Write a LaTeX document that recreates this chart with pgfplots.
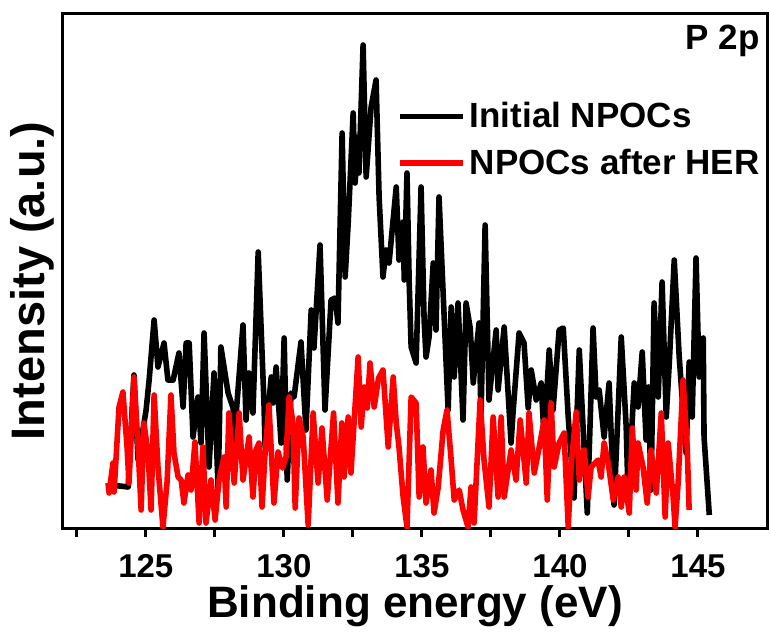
\documentclass[border=0pt]{standalone}
\usepackage{fontspec}
\setmainfont{Liberation Sans}
\usepackage{pgfplots}
\pgfplotsset{compat=1.18}

% P 2p XPS spectra (intensity in arbitrary units)
\pgfplotstableread{
x y
123.74 43
124.36 41
124.57 153
124.72 68
125.01 118
125.12 148
125.30 208
125.44 161
125.66 185
125.80 148
125.99 148
126.20 175
126.35 121
126.46 185
126.57 185
126.71 91
126.89 131
127.00 85
127.11 195
127.29 61
127.47 155
127.62 38
127.72 181
127.98 135
128.16 120
128.20 88
128.52 203
128.63 108
128.74 155
128.88 115
129.07 276
129.28 125
129.32 81
129.54 151
129.61 125
129.72 161
129.90 85
130.01 190
130.12 48
130.26 135
130.37 131
130.62 186
130.80 98
130.99 218
131.09 180
131.31 283
131.49 118
131.71 228
131.86 230
131.96 205
132.11 395
132.22 251
132.33 305
132.51 415
132.58 345
132.69 391
132.72 355
132.87 483
132.98 351
133.16 421
133.34 448
133.45 331
133.59 251
133.70 278
133.81 265
134.07 341
134.17 268
134.32 306
134.36 248
134.46 355
134.54 245
134.61 181
134.79 165
134.97 341
135.08 208
135.15 171
135.26 191
135.41 265
135.51 198
135.62 331
135.80 215
135.95 118
136.06 221
136.17 151
136.31 225
136.49 108
136.60 225
136.75 200
136.86 145
136.96 175
137.07 205
137.14 111
137.29 303
137.43 128
137.69 198
137.76 138
137.98 201
138.23 85
138.30 115
138.52 195
138.70 185
138.85 120
138.96 158
139.14 128
139.32 145
139.43 88
139.61 178
139.75 118
139.97 198
140.12 200
140.30 111
140.51 30
140.70 178
140.99 15
141.20 200
141.31 131
141.42 138
141.60 91
141.78 145
141.96 23
142.22 191
142.40 101
142.47 31
142.69 145
142.83 121
142.98 176
143.12 88
143.20 141
143.30 38
143.41 225
143.56 131
143.70 246
143.85 111
143.96 165
144.14 268
144.32 171
144.57 75
144.68 166
144.79 111
144.93 270
145.04 151
145.19 190
145.22 91
145.41 13
}\initial

\pgfplotstableread{
x y
123.63 45
123.67 35
123.81 65
123.85 36
124.03 121
124.17 136
124.32 81
124.39 45
124.57 151
124.72 81
124.83 18
124.93 105
125.08 75
125.19 18
125.30 133
125.44 61
125.62 1
125.77 46
125.91 133
126.02 75
126.17 51
126.28 48
126.38 25
126.53 53
126.64 38
126.78 86
126.93 5
127.07 81
127.18 5
127.36 48
127.51 8
127.65 48
127.83 71
127.91 21
128.01 115
128.20 45
128.38 115
128.52 48
128.74 91
128.88 31
128.99 78
129.10 85
129.21 21
129.32 75
129.46 123
129.64 25
129.79 76
129.95 60
130.08 71
130.19 131
130.33 105
130.41 20
130.55 110
130.70 91
130.88 3
131.06 115
131.24 45
131.38 100
131.57 28
131.80 115
131.96 25
132.10 105
132.18 51
132.33 111
132.43 55
132.69 171
132.80 101
132.91 141
133.02 120
133.12 165
133.27 121
133.43 150
133.59 158
133.78 81
133.96 151
134.07 105
134.17 81
134.32 31
134.46 1
134.61 131
134.79 125
134.90 31
135.04 81
135.15 25
135.33 58
135.44 15
135.59 41
135.77 98
135.91 118
136.06 68
136.17 28
136.35 38
136.49 18
136.67 1
136.78 41
136.89 5
137.11 128
137.25 68
137.43 21
137.58 111
137.76 31
137.87 111
137.98 31
138.23 78
138.41 48
138.56 108
138.78 45
138.88 115
139.07 55
139.25 81
139.43 108
139.54 28
139.68 125
139.79 61
139.97 85
140.15 95
140.30 1
140.41 65
140.59 116
140.70 48
140.88 78
141.02 31
141.13 61
141.38 68
141.49 51
141.60 85
141.75 65
141.93 28
142.11 51
142.22 21
142.33 51
142.51 15
142.62 100
142.76 38
142.83 85
143.01 61
143.16 25
143.30 78
143.49 35
143.67 115
143.81 11
143.92 85
144.10 31
144.17 1
144.28 45
144.46 148
144.61 81
144.68 18
}\afterher

\begin{document}
\begin{tikzpicture}
\begin{axis}[
    name=a,
    width=352pt, height=257.5pt,
    scale only axis,
    xmin=122, xmax=147.5,
    ymin=0, ymax=515,
    xtick={125,130,...,145},
    minor xtick={122.5,127.5,...,142.5},
    ytick=\empty,
    xtick pos=bottom,
    tick align=outside,
    major tick length=4.5pt,
    minor tick length=4.5pt,
    axis line style={line width=1.5pt},
    every tick/.style={line width=1.5pt, black},
    /pgf/number format/assume math mode=true,
    xticklabel style={font=\bfseries\fontsize{16.5}{16.5}\selectfont, anchor=base, yshift=-20pt},
    xlabel={Binding energy (eV)},
    xlabel style={font=\bfseries\fontsize{22}{22}\selectfont, at={(axis description cs:0.5,0)}, anchor=base, yshift=-44.5pt},
    ylabel={Intensity (a.u.)},
    ylabel style={font=\bfseries\fontsize{23.5}{23.5}\selectfont, at={(axis description cs:-0.0256,0.48)}, anchor=base, rotate=0},
    legend style={at={(axis description cs:0.4744,0.835)}, anchor=north west,
        draw=none, fill=none, font=\bfseries\fontsize{17.5}{17.5}\selectfont,
        inner sep=0pt, row sep=5pt},
    legend cell align=left,
    legend image code/.code={\draw[#1, line width=2.7pt] (0pt,0pt) -- (31.5pt,0pt);},
    every axis plot/.append style={line width=2.8pt, line join=round},
]
\addplot[black, no marks] table[x=x, y=y] {\initial};
\addlegendentry{Initial NPOCs}
\addplot[red, no marks] table[x=x, y=y] {\afterher};
\addlegendentry{NPOCs after HER}
\end{axis}
\node[anchor=north east, inner sep=0pt, font=\bfseries\fontsize{17.5}{17.5}\selectfont]
    at ([xshift=-3.5pt,yshift=-6pt]a.north east) {P 2p};
\pgfresetboundingbox
\path[use as bounding box] ([xshift=-31.5pt,yshift=-52.5pt]a.south west) rectangle ([xshift=1.5pt,yshift=6.5pt]a.north east);
\end{tikzpicture}
\end{document}
